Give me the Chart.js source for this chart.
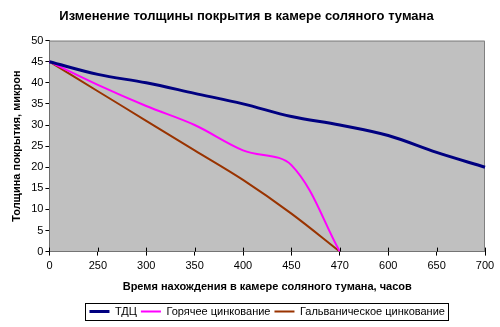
<!DOCTYPE html>
<html>
<head>
<meta charset="utf-8">
<script src="https://cdn.jsdelivr.net/npm/chart.js@4/dist/chart.umd.min.js"></script>
<style>
	html, body { margin: 0; padding: 0; background: #fff; }
	.chart-box { width: 500px; height: 327px; }
</style>
</head>
<body>
<div class="chart-box"><canvas id="myChart"></canvas></div>
<script>
const ctx = document.getElementById('myChart');

// часы в камере соляного тумана
const hours = ['0', '250', '300', '350', '400', '450', '470', '600', '650', '700'];

// толщина покрытия, микрон
const tdc = [45, 42, 40, 37.5, 35, 32, 30, 27.5, 23.5, 20];
const hotZinc = [45, 39.5, 34.5, 30, 24, 20.5, 0, null, null, null];
const galvZinc = [45, 38, 31, 24, 17, 9, 0, null, null, null];

const yMin = 0;
const yMax = 50;
const yStep = 5;

const font = '"Liberation Sans", Arial, sans-serif';

// серый фон области построения, рамка и засечки по оси X
const plotFrame = {
	id: 'plotFrame',
	beforeDatasetsDraw(chart) {
		const { ctx, chartArea: a } = chart;
		ctx.save();
		ctx.fillStyle = '#c0c0c0';
		ctx.fillRect(a.left, a.top, a.right - a.left, a.bottom - a.top);
		ctx.strokeStyle = '#808080';
		ctx.lineWidth = 1;
		ctx.beginPath();
		ctx.moveTo(a.left, a.top + 0.5);
		ctx.lineTo(a.right - 0.5, a.top + 0.5);
		ctx.lineTo(a.right - 0.5, a.bottom);
		ctx.stroke();
		ctx.restore();
	},
	afterDraw(chart) {
		const { ctx, chartArea: a } = chart;
		const x = chart.scales.x;
		ctx.save();
		ctx.strokeStyle = '#000';
		ctx.lineWidth = 1;
		ctx.beginPath();
		x.ticks.forEach((t, i) => {
			const px = Math.round(x.getPixelForTick(i)) + 0.5;
			ctx.moveTo(px, a.bottom - 4);
			ctx.lineTo(px, a.bottom);
		});
		ctx.stroke();
		ctx.restore();
	}
};

// рамка вокруг легенды, легенда по центру области построения
const legendFrame = {
	id: 'legendFrame',
	afterLayout(chart) {
		const lg = chart.legend;
		const a = chart.chartArea;
		const shift = (a.left + a.right) / 2 - (lg.left + lg.right) / 2;
		lg.left += shift;
		lg.right += shift;
	},
	afterDraw(chart) {
		const boxes = chart.legend.legendHitBoxes;
		if (!boxes || !boxes.length) return;
		const left = Math.min(...boxes.map(b => b.left));
		const right = Math.max(...boxes.map(b => b.left + b.width));
		const top = Math.min(...boxes.map(b => b.top));
		const bottom = Math.max(...boxes.map(b => b.top + b.height));
		const c = chart.ctx;
		c.save();
		c.strokeStyle = '#000';
		c.lineWidth = 1;
		c.strokeRect(Math.round(left - 4) + 0.5, Math.round(top - 3) + 0.5,
			Math.round(right - left + 8), Math.round(bottom - top + 6));
		c.restore();
	}
};

new Chart(ctx, {
	type: 'line',
	data: {
		labels: hours,
		datasets: [
			{
				label: 'ТДЦ',
				data: tdc,
				borderColor: '#000080',
				backgroundColor: '#000080',
				borderWidth: 3,
				pointRadius: 0,
				tension: 0.35,
			},
			{
				label: 'Горячее цинкование',
				data: hotZinc,
				borderColor: '#ff00ff',
				backgroundColor: '#ff00ff',
				borderWidth: 2,
				pointRadius: 0,
				tension: 0.35,
			},
			{
				label: 'Гальваническое цинкование',
				data: galvZinc,
				borderColor: '#993300',
				backgroundColor: '#993300',
				borderWidth: 2,
				pointRadius: 0,
				tension: 0.35,
			},
		],
	},
	options: {
		responsive: true,
		maintainAspectRatio: false,
		animation: false,
		layout: {
			padding: { left: 8, right: 15, top: 0, bottom: 0 }
		},
		plugins: {
			title: {
				display: true,
				text: 'Изменение толщины покрытия в камере соляного тумана',
				color: '#000',
				font: { family: font, size: 13, weight: 'bold' },
				padding: { top: 9, bottom: 16 }
			},
			legend: {
				position: 'bottom',
				labels: {
					color: '#000',
					font: { family: font, size: 11 },
					usePointStyle: true,
					pointStyle: 'line',
					pointStyleWidth: 20,
					padding: 4
				}
			},
			tooltip: { enabled: false }
		},
		scales: {
			x: {
				offset: false,
				grid: {
					display: true,
					drawOnChartArea: false,
					drawTicks: true,
					tickLength: 4,
					color: '#000'
				},
				border: { display: true, color: '#000' },
				ticks: {
					color: '#000',
					font: { family: font, size: 11 },
					padding: 4,
					maxRotation: 0,
					autoSkip: false
				},
				title: {
					display: true,
					text: 'Время нахождения в камере соляного тумана, часов',
					color: '#000',
					font: { family: font, size: 11, weight: 'bold' },
					padding: { top: 4, bottom: 8 }
				}
			},
			y: {
				min: yMin,
				max: yMax,
				grid: {
					display: true,
					drawOnChartArea: false,
					drawTicks: true,
					tickLength: 4,
					color: '#000'
				},
				border: { display: true, color: '#000' },
				ticks: {
					stepSize: yStep,
					color: '#000',
					font: { family: font, size: 11 },
					padding: 2
				},
				title: {
					display: true,
					text: 'Толщина покрытия, микрон',
					color: '#000',
					font: { family: font, size: 11, weight: 'bold' },
					padding: { top: 2, bottom: 6 }
				}
			}
		}
	},
	plugins: [plotFrame, legendFrame]
});
</script>
</body>
</html>
